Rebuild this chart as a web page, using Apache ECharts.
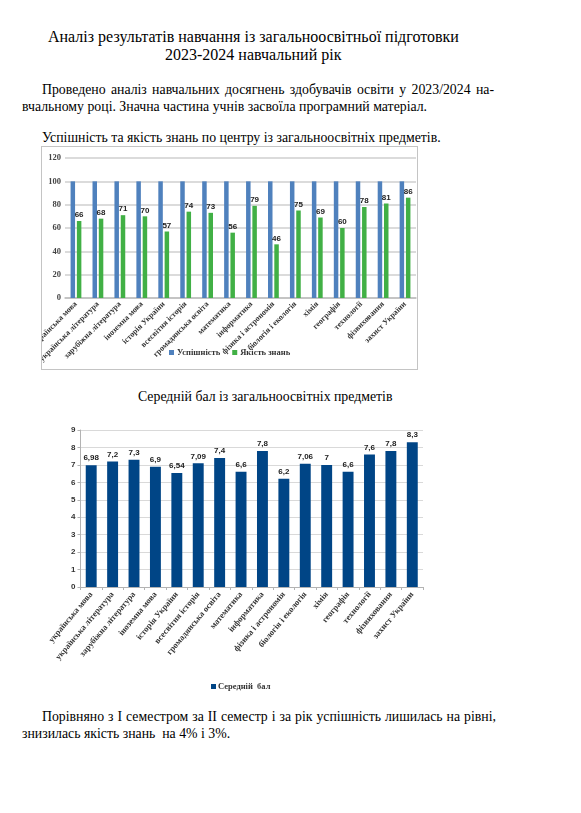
<!DOCTYPE html>
<html>
<head>
<meta charset="utf-8">
<script src="https://cdn.jsdelivr.net/npm/echarts@6/dist/echarts.min.js"></script>
<style>
  body { margin: 0; background: #fff; width: 581px; height: 813px; overflow: hidden; position: relative; }
  .t { position: absolute; font-family: "Liberation Serif", "Times New Roman", serif; color: #000; white-space: nowrap; }
  .j { text-align: justify; text-align-last: justify; white-space: normal; }
  #successChart { position: absolute; left: 41px; top: 146px; width: 375px; height: 222px; border: 1px solid #c4c4c4; }
  #avgChart { position: absolute; left: 0; top: 415px; width: 581px; height: 290px; }
</style>
</head>
<body>
<div class="t" style="left:48px;top:28px;font-size:16px;line-height:18px;">Аналіз результатів навчання із загальноосвітньої підготовки</div>
<div class="t" style="left:165px;top:46px;font-size:16px;line-height:18px;">2023-2024 навчальний рік</div>

<div class="t j" style="left:42px;top:81px;width:452px;font-size:13.8px;line-height:17px;">Проведено аналіз навчальних досягнень здобувачів освіти у 2023/2024 на-</div>
<div class="t" style="left:22px;top:98px;font-size:13.8px;line-height:17px;">вчальному році. Значна частина учнів засвоїла програмний матеріал.</div>

<div class="t" style="left:42px;top:129px;font-size:13.8px;line-height:17px;">Успішність та якість знань по центру із загальноосвітніх предметів.</div>

<div id="successChart"></div>

<div class="t" style="left:138px;top:388px;font-size:13.8px;line-height:17px;">Середній бал із загальноосвітніх предметів</div>

<div id="avgChart"></div>

<div class="t j" style="left:42px;top:708px;width:454px;font-size:13.8px;line-height:17px;word-spacing:-1px;">Порівняно з І семестром за ІІ семестр і за рік успішність лишилась на рівні,</div>
<div class="t" style="left:22px;top:725px;font-size:13.8px;line-height:17px;">знизилась якість знань&nbsp; на 4% і 3%.</div>

<script>
// Subjects (x axis)
const subjects = [
  "українська мова", "українська література", "зарубіжна література", "іноземна мова",
  "історія України", "всесвітня історія", "громадянська освіта", "математика",
  "інформатика", "фізика і астрономія", "біологія і екологія", "хімія",
  "географія", "технології", "фізвиховання", "захист України"
];

// Chart 1 values, %
const success = [100, 100, 100, 100, 100, 100, 100, 100, 100, 100, 100, 100, 100, 100, 100, 100];
const quality = [66, 68, 71, 70, 57, 74, 73, 56, 79, 46, 75, 69, 60, 78, 81, 86];

// Chart 2 values, average score
const avgScore = [6.98, 7.2, 7.3, 6.9, 6.54, 7.09, 7.4, 6.6, 7.8, 6.2, 7.06, 7, 6.6, 7.6, 7.8, 8.3];

const serif = "Liberation Serif";
const sans = "Liberation Sans";

function drawSuccessChart() {
  const chart = echarts.init(document.getElementById("successChart"));
  const option = {
    animation: false,
    grid: { left: 23, right: 1, top: 11, bottom: 71, outerBoundsMode: "none" },
    legend: {
      data: ["Успішність", "Якість знань"],
      bottom: 7,
      left: 122,
      itemWidth: 5,
      itemHeight: 5,
      itemGap: 12,
      icon: "rect",
      textStyle: { fontFamily: serif, fontWeight: "bold", fontSize: 8.5, color: "#333", padding: [0, 0, 0, -2] },
    },
    xAxis: {
      type: "category",
      data: subjects,
      axisLine: { lineStyle: { color: "#bdbdbd", width: 1.5 } },
      axisTick: { show: false },
      axisLabel: {
        rotate: 45,
        interval: 0,
        margin: 5,
        fontFamily: serif,
        fontWeight: "bold",
        fontSize: 8,
        color: "#333",
      },
    },
    yAxis: {
      type: "value",
      min: 0,
      max: 120,
      interval: 20,
      axisLine: { show: false },
      axisTick: { show: false },
      splitLine: { lineStyle: { color: "#cfcfcf", width: 1.5 } },
      axisLabel: { margin: 4, fontFamily: serif, fontWeight: "bold", fontSize: 8.5, color: "#444" },
    },
    series: [
      {
        name: "Успішність",
        type: "bar",
        data: success,
        barWidth: 4.5,
        barGap: "40%",
        itemStyle: { color: "#4f81bd" },
      },
      {
        name: "Якість знань",
        type: "bar",
        data: quality,
        barWidth: 4.5,
        itemStyle: { color: "#41b045" },
        label: {
          show: true,
          position: "top",
          distance: 2,
          fontFamily: sans,
          fontWeight: "bold",
          fontSize: 8,
          color: "#222",
        },
      },
    ],
  };
  chart.setOption(option);
}

function drawAvgChart() {
  const chart = echarts.init(document.getElementById("avgChart"));
  const option = {
    animation: false,
    grid: { left: 80.5, width: 342.5, top: 15, height: 157, outerBoundsMode: "none" },
    legend: {
      data: ["Середній  бал"],
      top: 262,
      left: 206,
      itemWidth: 5,
      itemHeight: 5,
      icon: "rect",
      textStyle: { fontFamily: serif, fontWeight: "bold", fontSize: 8.5, color: "#333", padding: [0, 0, 0, -3] },
    },
    xAxis: {
      type: "category",
      data: subjects,
      axisLine: { lineStyle: { color: "#b3b3b3" } },
      axisTick: { show: true, length: 3, lineStyle: { color: "#b3b3b3" } },
      axisLabel: {
        rotate: 50,
        interval: 0,
        margin: 6,
        fontFamily: serif,
        fontWeight: "bold",
        fontSize: 8.5,
        color: "#333",
      },
    },
    yAxis: {
      type: "value",
      min: 0,
      max: 9,
      interval: 1,
      axisLine: { show: true, lineStyle: { color: "#b3b3b3" } },
      axisTick: { show: true, length: 3, lineStyle: { color: "#b3b3b3" } },
      splitLine: { lineStyle: { color: "#d9d9d9" } },
      axisLabel: { margin: 5, fontFamily: sans, fontWeight: "bold", fontSize: 8, color: "#333" },
    },
    series: [
      {
        name: "Середній  бал",
        type: "bar",
        data: avgScore,
        barWidth: "51%",
        itemStyle: { color: "#004586" },
        label: {
          show: true,
          position: "top",
          distance: 3,
          fontFamily: sans,
          fontWeight: "bold",
          fontSize: 8,
          color: "#222",
          formatter: (p) => String(p.value).replace(".", ","),
        },
      },
    ],
  };
  chart.setOption(option);
}

drawSuccessChart();
drawAvgChart();
</script>
</body>
</html>
